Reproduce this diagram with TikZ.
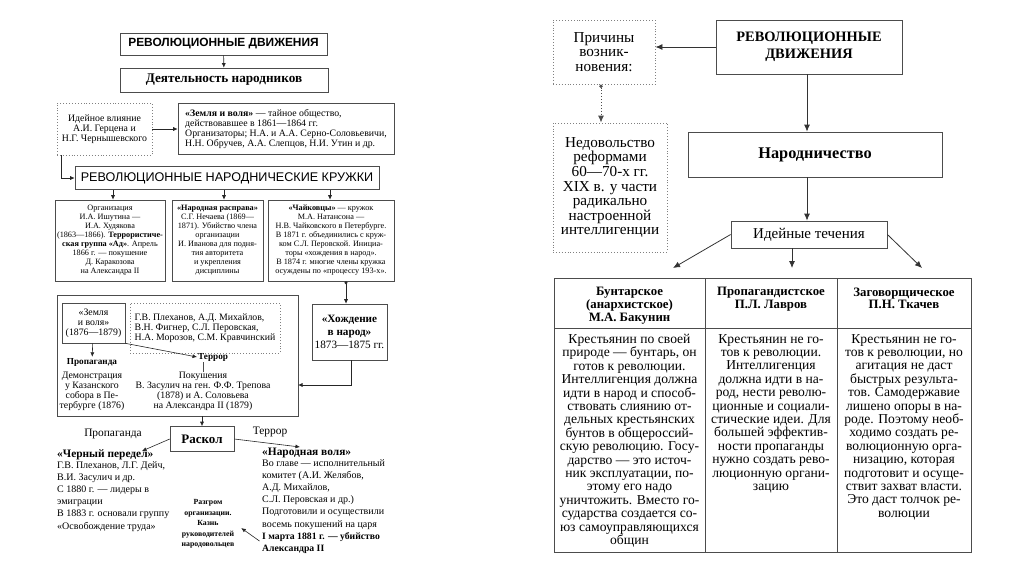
\documentclass[tikz,border=0pt]{standalone}
\usepackage{fontspec}
\setmainfont{Liberation Serif}
\setsansfont{Liberation Sans}
\usetikzlibrary{arrows.meta,positioning,calc}
\tikzset{
  boxed/.style={draw=black!70,line width=0.6pt,align=center,inner sep=2pt},
  dotboxed/.style={draw=black!50,dotted,line width=0.9pt,align=center,inner sep=2pt},
  tinytext/.style={font=\fontsize{8.2}{9}\selectfont},
  smalltext/.style={font=\fontsize{9.8}{10}\selectfont},
  listtext/.style={font=\fontsize{10}{12.2}\selectfont,align=left,inner sep=0pt},
  bigtext/.style={font=\fontsize{15.2}{14.6}\selectfont},
  celltext/.style={font=\fontsize{13.6}{13.4}\selectfont,align=center,inner sep=0pt},
  headtext/.style={font=\bfseries\fontsize{12.8}{12.8}\selectfont,align=center},
  flow/.style={-{Latex[length=4.5pt,width=4pt]},line width=0.6pt,black!85},
  bigflow/.style={-{Latex[length=7pt,width=6pt]},line width=0.8pt,black!80},
  dotflow/.style={{Circle[length=3.5pt]}-{Latex[length=7pt,width=6pt]},dotted,line width=0.9pt,black!70}
}

\begin{document}
\begin{tikzpicture}[x=1pt,y=-1pt]
  \useasboundingbox (0,0) rectangle (1024,574);
  % left scheme
  \node[boxed,minimum width=207,minimum height=22,font=\sffamily\bfseries\fontsize{11.9}{12}\selectfont] (revL) at (223.5,44) {РЕВОЛЮЦИОННЫЕ ДВИЖЕНИЯ};
  \node[boxed,minimum width=208,minimum height=24,font=\bfseries\fontsize{13.2}{14}\selectfont] (deyat) at (224,80) {Деятельность народников};
  \node[dotboxed,smalltext,minimum width=95,minimum height=52,inner sep=1pt] (ideyn) at (104.5,129) {Идейное влияние\\А.И. Герцена и\\Н.Г. Чернышевского};
  \node[boxed,smalltext,align=left,minimum width=216,minimum height=51] (zem61) at (286,129)
    {\textbf{«Земля и воля»} — тайное общество,\\действовавшее в 1861—1864 гг.\\Организаторы; Н.А. и А.А. Серно-Соловьевичи,\\Н.Н. Обручев, А.А. Слепцов, Н.И. Утин и др.};
  \node[boxed,minimum width=304,minimum height=23,font=\sffamily\fontsize{12.6}{13}\selectfont] (kruzh) at (227,178) {РЕВОЛЮЦИОННЫЕ НАРОДНИЧЕСКИЕ КРУЖКИ};
  \node[boxed,tinytext,minimum width=110,minimum height=81] (col1) at (110,240.5)
    {Организация\\И.А. Ишутина —\\И.А. Худякова\\(1863—1866). \textbf{Террористиче-}\\\textbf{ская группа «Ад»}. Апрель\\1866 г. — покушение\\Д. Каракозова\\на Александра II};
  \node[boxed,tinytext,minimum width=91,minimum height=81] (col2) at (217.5,240.5)
    {\textbf{«Народная расправа»}\\С.Г. Нечаева (1869—\\1871). Убийство члена\\организации\\И. Иванова для подня-\\тия авторитета\\и укрепления\\дисциплины};
  \node[boxed,tinytext,minimum width=126,minimum height=81,inner sep=1pt] (col3) at (331,240.5)
    {\textbf{«Чайковцы»} — кружок\\М.А. Натансона —\\Н.В. Чайковского в Петербурге.\\В 1871 г. объединились с круж-\\ком С.Л. Перовской. Инициа-\\торы «хождения в народ».\\В 1874 г. многие члены кружка\\осуждены по «процессу 193-х».};
  \node[boxed,minimum width=241,minimum height=121] (big) at (177.5,355.5) {};
  \node[boxed,smalltext,minimum width=63,minimum height=40,inner sep=1pt] (zem76) at (93.5,323) {«Земля\\и воля»\\(1876—1879)};
  \node[dotboxed,smalltext,align=left,minimum width=150,minimum height=50,inner sep=1pt] (memb) at (205,328)
    {Г.В. Плеханов, А.Д. Михайлов,\\В.Н. Фигнер, С.Л. Перовская,\\Н.А. Морозов, С.М. Кравчинский};
  \node[font=\bfseries\fontsize{9.2}{10}\selectfont,inner sep=1pt] (propL) at (92,362) {Пропаганда};
  \node[font=\bfseries\fontsize{9.2}{10}\selectfont,inner sep=1pt,anchor=west] (terrL) at (197,357) {Террор};
  \node[smalltext,align=center,anchor=north,inner sep=0pt] (demo) at (92,372) {Демонстрация\\у Казанского\\собора в Пе-\\тербурге (1876)};
  \node[smalltext,align=center,anchor=north,inner sep=0pt] (pokush) at (203,372) {Покушения\\В. Засулич на ген. Ф.Ф. Трепова\\(1878) и А. Соловьева\\на Александра II (1879)};
  \node[boxed,minimum width=75,minimum height=56,font=\fontsize{11.2}{13}\selectfont,inner sep=1pt] (khozhd) at (349.5,332)
    {\textbf{«Хождение}\\\textbf{в народ»}\\1873—1875 гг.};
  \coordinate (hzin) at (298,385);
  \node[boxed,minimum width=64,minimum height=25,font=\bfseries\fontsize{13}{14}\selectfont] (raskol) at (202,439) {Раскол};
  \node[font=\fontsize{11.4}{12}\selectfont,inner sep=0pt] (propR) at (113,434) {Пропаганда};
  \node[font=\fontsize{11.4}{12}\selectfont,inner sep=0pt] (terrR) at (270,432) {Террор};
  \coordinate (cpend) at (142,451);
  \coordinate (nvend) at (300,447);
  \node[font=\bfseries\fontsize{11.4}{12}\selectfont,inner sep=0pt,anchor=west] (chernyT) at (57,455) {«Черный передел»};
  \node[listtext,anchor=north west] (chernyB) at (57,461)
    {Г.В. Плеханов, Л.Г. Дейч,\\В.И. Засулич и др.\\С 1880 г. — лидеры в\\эмиграции\\В 1883 г. основали группу\\«Освобождение труда»};
  \node[font=\bfseries\fontsize{11.4}{12}\selectfont,inner sep=0pt,anchor=west] (narvT) at (262,453) {«Народная воля»};
  \node[listtext,anchor=north west] (narvB) at (262,459)
    {Во главе — исполнительный\\комитет (А.И. Желябов,\\А.Д. Михайлов,\\С.Л. Перовская и др.)\\Подготовили и осуществили\\восемь покушений на царя};
  \node[listtext,font=\bfseries\fontsize{9.7}{12.2}\selectfont,anchor=north west] (march) at (262,532)
    {I марта 1881 г. — убийство\\Александра II};
  \node[font=\bfseries\fontsize{7.8}{10.6}\selectfont,align=center,inner sep=1pt] (razgrom) at (208,524)
    {Разгром\\организации.\\Казнь\\руководителей\\народовольцев};
  \draw[flow] (revL) -- (deyat);
  \draw[flow] (ideyn) -- (zem61);
  \draw[flow] ($(ideyn.south west)+(5,0)$) |- (kruzh.west);
  \foreach \c/\x in {col1/113,col2/224,col3/330}
    \draw[flow] (kruzh.south -| \x,0) -- (\c.north -| \x,0);
  \draw[flow,{Circle[length=3pt]}-{Latex[length=4.5pt,width=4pt]}] (col3.south -| 346,0) -- (khozhd.north -| 346,0);
  \draw[flow] (khozhd.south -| 351,0) |- (hzin);
  \draw[flow] (zem76) -- (propL);
  \draw[flow] (zem76.south east) -- (terrL.west);
  \draw[line width=0.4pt,black!70] (terrL.south -| pokush.north) -- (pokush.north);
  \draw[flow] (big.south -| raskol.north) -- (raskol.north);
  \draw[flow] (raskol.west) -- (cpend);
  \draw[flow] (raskol.east) -- (nvend);
  \draw[flow,shorten <=3pt,shorten >=7pt] (march.west) -- (razgrom.east);
  % right scheme
  \node[dotboxed,bigtext,minimum width=102,minimum height=64,inner sep=1pt] (prich) at (604,52) {Причины\\возник-\\новения:};
  \node[boxed,line width=0.8pt,minimum width=186,minimum height=54,font=\bfseries\fontsize{14.4}{16.5}\selectfont] (revR) at (809,47) {РЕВОЛЮЦИОННЫЕ\\ДВИЖЕНИЯ};
  \node[boxed,line width=0.8pt,minimum width=254,minimum height=45,font=\bfseries\fontsize{16.3}{17}\selectfont] (narod) at (815,154.5) {Народничество};
  \node[boxed,line width=0.8pt,minimum width=156,minimum height=27,font=\fontsize{15}{15}\selectfont,inner sep=1pt] (idey) at (809,234.5) {Идейные течения};
  \node[dotboxed,bigtext,minimum width=114,minimum height=129,inner sep=1pt] (nedov) at (610,187.5)
    {Недовольство\\реформами\\60—70-х гг.\\XIX в. у части\\радикально\\настроенной\\интеллигенции};
  \node[boxed,line width=0.8pt,minimum width=151,minimum height=50] (h1) at (629.5,303) {};
  \node[boxed,line width=0.8pt,minimum width=132,minimum height=50] (h2) at (771,303) {};
  \node[boxed,line width=0.8pt,minimum width=134,minimum height=50] (h3) at (904,303) {};
  \node[boxed,line width=0.8pt,minimum width=151,minimum height=224] (b1) at (629.5,440) {};
  \node[boxed,line width=0.8pt,minimum width=132,minimum height=224] (b2) at (771,440) {};
  \node[boxed,line width=0.8pt,minimum width=134,minimum height=224] (b3) at (904,440) {};
  \node[headtext,anchor=north] (h1t) at (629.5,284) {Бунтарское\\(анархистское)\\М.А. Бакунин};
  \node[headtext,anchor=north] (h2t) at (771,284) {Пропагандистское\\П.Л. Лавров};
  \node[headtext,anchor=north] (h3t) at (904,284) {Заговорщическое\\П.Н. Ткачев};
  \node[celltext,anchor=north] (b1t) at (629.5,334)
    {Крестьянин по своей\\природе — бунтарь, он\\готов к революции.\\Интеллигенция должна\\идти в народ и способ-\\ствовать слиянию от-\\дельных крестьянских\\бунтов в общероссий-\\скую революцию. Госу-\\дарство — это источ-\\ник эксплуатации, по-\\этому его надо\\уничтожить. Вместо го-\\сударства создается со-\\юз самоуправляющихся\\общин};
  \node[celltext,anchor=north] (b2t) at (771,334)
    {Крестьянин не го-\\тов к революции.\\Интеллигенция\\должна идти в на-\\род, нести револю-\\ционные и социали-\\стические идеи. Для\\большей эффектив-\\ности пропаганды\\нужно создать рево-\\люционную органи-\\зацию};
  \node[celltext,anchor=north] (b3t) at (904,334)
    {Крестьянин не го-\\тов к революции, но\\агитация не даст\\быстрых результа-\\тов. Самодержавие\\лишено опоры в на-\\роде. Поэтому необ-\\ходимо создать ре-\\волюционную орга-\\низацию, которая\\подготовит и осуще-\\ствит захват власти.\\Это даст толчок ре-\\волюции};
  \coordinate (t1) at (673,268);
  \coordinate (t2) at (792,268);
  \coordinate (t3) at (922,268);
  \draw[bigflow] (revR.west) -- (revR.west -| prich.east);
  \draw[dotflow] (prich.south -| 601,0) -- (nedov.north -| 601,0);
  \draw[bigflow] (revR.south -| 807,0) -- (narod.north -| 807,0);
  \draw[bigflow] (narod.south -| 807,0) -- (idey.north -| 807,0);
  \draw[bigflow] (idey.west) -- (t1);
  \draw[bigflow] (idey.south -| t2) -- (t2);
  \draw[bigflow] (idey.east) -- (t3);
\end{tikzpicture}
\end{document}
